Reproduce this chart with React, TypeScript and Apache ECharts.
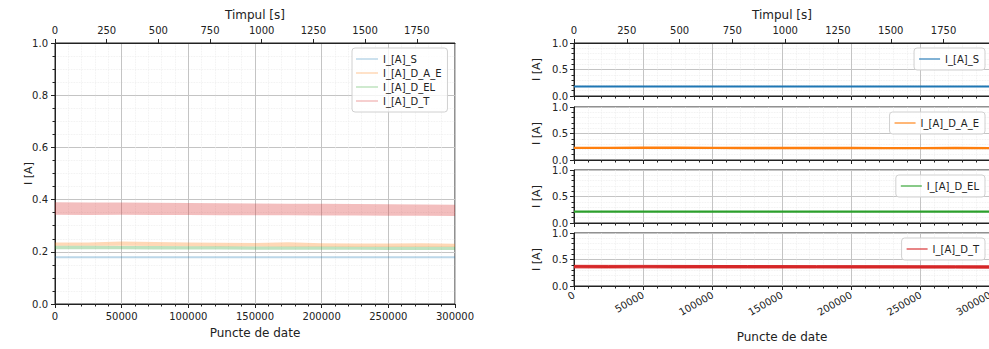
import React, { useEffect, useRef } from "react";
import * as echarts from "echarts";

// ---------- data ----------
const SERIES_NAMES = ["I_[A]_S", "I_[A]_D_A_E", "I_[A]_D_EL", "I_[A]_D_T"];
const COLORS_RGB = [
  [31, 119, 180],
  [255, 127, 14],
  [44, 160, 44],
  [214, 39, 40],
];

// sample positions (data point index)
const X_POINTS = [0, 25000, 50000, 75000, 100000, 125000, 150000, 175000, 200000, 225000, 250000, 275000, 300000];

// lower / upper envelope of each noisy signal [A]
const S_LOW = [0.175, 0.175, 0.175, 0.175, 0.175, 0.175, 0.175, 0.175, 0.175, 0.175, 0.175, 0.175, 0.175];
const S_HIGH = [0.183, 0.183, 0.183, 0.183, 0.183, 0.183, 0.183, 0.183, 0.183, 0.183, 0.183, 0.183, 0.183];
const DAE_LOW = [0.223, 0.223, 0.223, 0.222, 0.221, 0.220, 0.220, 0.219, 0.219, 0.218, 0.218, 0.218, 0.218];
const DAE_HIGH = [0.236, 0.236, 0.239, 0.238, 0.236, 0.235, 0.234, 0.237, 0.233, 0.232, 0.232, 0.233, 0.231];
const DEL_LOW = [0.210, 0.210, 0.210, 0.209, 0.209, 0.209, 0.208, 0.208, 0.208, 0.208, 0.207, 0.207, 0.207];
const DEL_HIGH = [0.223, 0.223, 0.222, 0.222, 0.221, 0.221, 0.220, 0.220, 0.220, 0.219, 0.219, 0.219, 0.219];
const DT_LOW = [0.342, 0.341, 0.342, 0.341, 0.341, 0.340, 0.340, 0.340, 0.339, 0.339, 0.338, 0.338, 0.337];
const DT_HIGH = [0.390, 0.389, 0.389, 0.388, 0.387, 0.386, 0.385, 0.384, 0.384, 0.383, 0.382, 0.381, 0.380];

const LOWS = [S_LOW, DAE_LOW, DEL_LOW, DT_LOW];
const HIGHS = [S_HIGH, DAE_HIGH, DEL_HIGH, DT_HIGH];

// axis ranges
const POINTS_MAX = 300000;
const POINTS_STEP = 50000;
const TIME_MAX_LEFT = 1935;
const TIME_MAX_RIGHT = 1970;
const TIME_STEP = 250;

const FONT = "DejaVu Sans";
const INK = "#222";

const rgba = (i: number, a: number) => `rgba(${COLORS_RGB[i][0]},${COLORS_RGB[i][1]},${COLORS_RGB[i][2]},${a})`;

function bandSeries(idx: number, xAxisIndex: number, yAxisIndex: number, alpha: number, strokeWidth: number) {
  const low = LOWS[idx];
  const high = HIGHS[idx];
  return {
    type: "custom",
    name: SERIES_NAMES[idx],
    xAxisIndex,
    yAxisIndex,
    clip: true,
    silent: true,
    data: X_POINTS.map((x, i) => [x, low[i], high[i]]),
    encode: { x: 0, y: [1, 2] },
    renderItem: (params: any, api: any) => {
      if (params.dataIndex !== 0) return null;
      const lowerPts = X_POINTS.map((x, i) => api.coord([x, low[i]]));
      const upperPts = X_POINTS.map((x, i) => api.coord([x, high[i]])).reverse();
      return {
        type: "polygon",
        shape: { points: [...lowerPts, ...upperPts] },
        style: {
          fill: rgba(idx, alpha),
          stroke: strokeWidth > 0 ? rgba(idx, alpha) : null,
          lineWidth: strokeWidth,
        },
      };
    },
  };
}

const labelStyle = { color: INK, fontFamily: FONT, fontSize: 10 };
const nameStyle = { color: INK, fontFamily: FONT, fontSize: 12 };
const axisLine = { show: true, lineStyle: { color: INK, width: 1 } };
const majorSplit = { show: true, lineStyle: { color: "#c4c4c4", width: 1 } };
const minorSplit = { show: true, lineStyle: { color: "#ececec", width: 0.8, type: "dotted" } };
const plainNum = (v: number) => String(v);

export default function App() {
  const ref = useRef<HTMLDivElement | null>(null);

  useEffect(() => {
    if (!ref.current) return;
    const chart = echarts.init(ref.current, undefined, { renderer: "svg" });

    const rightTops = [43, 107, 170, 233];
    const panelH = 53;

    const grids: any[] = [
      { left: 55, top: 43, width: 400, height: 261, show: true, borderColor: INK, borderWidth: 1, backgroundColor: "transparent" },
      ...rightTops.map((t) => ({ left: 574, top: t, width: 416, height: panelH, show: true, borderColor: INK, borderWidth: 1, backgroundColor: "transparent" })),
    ];

    const xAxes: any[] = [];
    const yAxes: any[] = [];

    // left plot: bottom (points) axis
    xAxes.push({
      type: "value",
      gridIndex: 0,
      position: "bottom",
      min: 0,
      max: POINTS_MAX,
      interval: POINTS_STEP,
      name: "Puncte de date",
      nameLocation: "middle",
      nameGap: 23,
      nameMoveOverlap: false,
      nameTextStyle: nameStyle,
      axisLine,
      axisTick: { show: true, length: 4, lineStyle: { color: INK } },
      minorTick: { show: true, splitNumber: 5, length: 2.5, lineStyle: { color: INK } },
      axisLabel: { ...labelStyle, margin: 7, formatter: plainNum },
      splitLine: majorSplit,
      minorSplitLine: minorSplit,
    });
    // left plot: top (time) axis
    xAxes.push({
      type: "value",
      gridIndex: 0,
      position: "top",
      min: 0,
      max: TIME_MAX_LEFT,
      interval: TIME_STEP,
      name: "Timpul [s]",
      nameLocation: "middle",
      nameGap: 22,
      nameMoveOverlap: false,
      nameTextStyle: nameStyle,
      axisLine,
      axisTick: { show: true, length: 4, lineStyle: { color: INK } },
      axisLabel: { ...labelStyle, margin: 8, showMaxLabel: false, formatter: plainNum },
      splitLine: { show: false },
    });
    yAxes.push({
      type: "value",
      gridIndex: 0,
      min: 0,
      max: 1,
      interval: 0.2,
      name: "I [A]",
      nameLocation: "middle",
      nameGap: 21,
      nameMoveOverlap: false,
      nameTextStyle: { ...nameStyle, fontSize: 11 },
      axisLine,
      axisTick: { show: true, length: 4, lineStyle: { color: INK } },
      minorTick: { show: true, splitNumber: 4, length: 2.5, lineStyle: { color: INK } },
      axisLabel: { ...labelStyle, margin: 7, formatter: (v: number) => v.toFixed(1) },
      splitLine: majorSplit,
      minorSplitLine: minorSplit,
    });

    // right panels
    rightTops.forEach((_, k) => {
      const last = k === rightTops.length - 1;
      xAxes.push({
        type: "value",
        gridIndex: k + 1,
        position: "bottom",
        min: 0,
        max: POINTS_MAX,
        interval: POINTS_STEP,
        name: last ? "Puncte de date" : "",
        nameLocation: "middle",
        nameGap: 45,
        nameMoveOverlap: false,
        nameTextStyle: nameStyle,
        axisLine,
        axisTick: { show: true, length: 4, lineStyle: { color: INK } },
        minorTick: { show: true, splitNumber: 5, length: 2.5, lineStyle: { color: INK } },
        axisLabel: last ? { ...labelStyle, rotate: 30, margin: 8, showMaxLabel: true, formatter: plainNum } : { show: false },
        splitLine: majorSplit,
        minorSplitLine: minorSplit,
      });
      yAxes.push({
        type: "value",
        gridIndex: k + 1,
        min: 0,
        max: 1,
        interval: 0.5,
        name: "I [A]",
        nameLocation: "middle",
        nameGap: 32,
        nameMoveOverlap: false,
        nameTextStyle: { ...nameStyle, fontSize: 11 },
        axisLine,
        axisTick: { show: true, length: 4, lineStyle: { color: INK } },
        minorTick: { show: true, splitNumber: 5, length: 2.5, lineStyle: { color: INK } },
        axisLabel: { ...labelStyle, margin: 6, formatter: (v: number) => v.toFixed(1) },
        splitLine: majorSplit,
        minorSplitLine: minorSplit,
      });
    });
    // right top (time) axis on first panel
    xAxes.push({
      type: "value",
      gridIndex: 1,
      position: "top",
      min: 0,
      max: TIME_MAX_RIGHT,
      interval: TIME_STEP,
      name: "Timpul [s]",
      nameLocation: "middle",
      nameGap: 22,
      nameMoveOverlap: false,
      nameTextStyle: nameStyle,
      axisLine,
      axisTick: { show: true, length: 4, lineStyle: { color: INK } },
      axisLabel: { ...labelStyle, margin: 8, showMaxLabel: false, formatter: plainNum },
      splitLine: { show: false },
    });

    const series: any[] = [];
    SERIES_NAMES.forEach((_, i) => {
      series.push(bandSeries(i, 0, 0, 0.3, 0));
    });
    SERIES_NAMES.forEach((_, i) => {
      series.push(bandSeries(i, 2 + i, 1 + i, 1, i === 3 ? 1 : 1.6));
    });

    const legendBase = {
      orient: "vertical",
      icon: "rect",
      itemHeight: 1.5,
      selectedMode: false,
      z: 20,
      backgroundColor: "rgba(255,255,255,0.8)",
      borderColor: "#d0d0d0",
      borderWidth: 1,
      borderRadius: 3,
      textStyle: { color: INK, fontFamily: FONT, fontSize: 10, lineHeight: 14 },
      itemGap: 0,
    };

    const legends: any[] = [
      {
        ...legendBase,
        left: 352,
        top: 48,
        padding: [4, 6, 4, 4],
        itemWidth: 22,
        data: SERIES_NAMES.map((n, i) => ({
          name: n,
          itemStyle: { color: rgba(i, 0.3) },
        })),
      },
      ...SERIES_NAMES.map((n, i) => ({
        ...legendBase,
        right: 15,
        top: rightTops[i] + 5,
        padding: [4, 6, 4, 5],
        itemWidth: 21,
        data: [{ name: n, itemStyle: { color: rgba(i, 0.75) } }],
      })),
    ];

    chart.setOption({
      animation: false,
      backgroundColor: "#ffffff",
      textStyle: { fontFamily: FONT },
      grid: grids,
      xAxis: xAxes,
      yAxis: yAxes,
      legend: legends,
      series,
    });

    return () => chart.dispose();
  }, []);

  return (
    <div
      ref={ref}
      style={{ position: "fixed", left: 0, top: 0, width: 1000, height: 349, background: "#fff" }}
    />
  );
}
